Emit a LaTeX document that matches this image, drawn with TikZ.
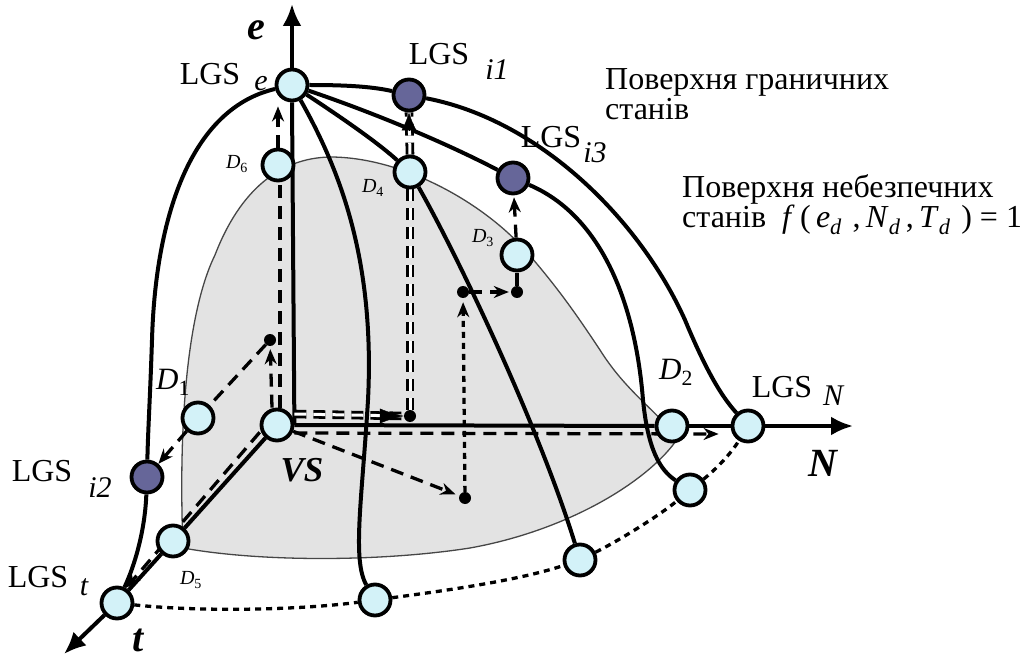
\documentclass[tikz,border=0pt]{standalone}
\usepackage{fontspec}
\setmainfont{Liberation Serif}
\usetikzlibrary{arrows.meta}
\definecolor{stcyan}{RGB}{211,242,248}
\definecolor{stpurple}{RGB}{102,102,153}
\definecolor{surfgray}{RGB}{227,227,227}
\definecolor{surfedge}{RGB}{70,70,70}
\pgfdeclarelayer{surface}
\pgfdeclarelayer{lines}
\pgfsetlayers{surface,lines,main}

\begin{document}
\begin{tikzpicture}[x=1pt,y=-1pt,
  stnode/.style={circle,draw,line width=3.8pt,fill=stcyan,minimum size=31pt,inner sep=0pt},
  lgsnode/.style={stnode,fill=stpurple},
  pnt/.style={circle,fill=black,minimum size=12pt,inner sep=0pt},
  txt/.style={font=\fontsize{32}{30}\selectfont,inner sep=0pt},
  subtxt/.style={font=\fontsize{30}{30}\selectfont\itshape,inner sep=0pt},
  dbig/.style={font=\fontsize{31}{31}\selectfont,inner sep=0pt},
  dsmall/.style={font=\fontsize{20}{20}\selectfont,inner sep=0pt},
  axlbl/.style={font=\fontsize{40}{40}\selectfont\bfseries\itshape,inner sep=0pt},
  curve/.style={line width=4pt},
  axisline/.style={line width=4pt,-{Latex[length=22pt,width=19pt]}},
  dsh/.style={line width=3.3pt,dash pattern=on 13pt off 8pt},
  dotline/.style={line width=3.3pt,dash pattern=on 6pt off 5pt},
  dbl/.style={double,double distance=3pt,line width=2.8pt,dash pattern=on 12pt off 7pt},
  tip/.style={-{Stealth[length=15pt,width=12pt]}},
]
\useasboundingbox (0,0) rectangle (1020,660);

% states on the axes
\node[stnode] (VS) at (277,425) {};
\node[stnode] (LGSe) at (292,85) {};
\node[stnode] (LGSt) at (117,603) {};
\node[stnode] (LGSN) at (748,426) {};
\node[stnode] (D1) at (198,418) {};
\node[stnode] (D2) at (672,426) {};
\node[stnode] (D3) at (517,255) {};
\node[stnode] (D4) at (410,172) {};
\node[stnode] (D5) at (173,541) {};
\node[stnode] (D6) at (278,165) {};
\node[stnode] (B1) at (375,600) {};
\node[stnode] (B2) at (580,560) {};
\node[stnode] (B3) at (690,490) {};
% limit states
\node[lgsnode] (LGSi1) at (409,95) {};
\node[lgsnode] (LGSi2) at (147,477) {};
\node[lgsnode] (LGSi3) at (513,178) {};
% points
\node[pnt] (dotA) at (270,340) {};
\node[pnt] (dotB) at (410,416) {};
\node[pnt] (dotC) at (465,498) {};
\node[pnt] (dotD) at (463,292) {};
\node[pnt] (dotE) at (517,292) {};
\coordinate (eTip) at (292,4);
\coordinate (NTip) at (853,426);
\coordinate (tTip) at (64,654);

% labels
\node[axlbl] (le) at (256,30) {e};
\node[axlbl] (lt) at (138,640) {t};
\node[axlbl] (lN) at (823,463) {N};
\node[axlbl,font=\fontsize{35}{35}\selectfont\bfseries\itshape] (lVS) at (302,470) {VS};
\node[txt] (lLGSe) at (210,74) {LGS};
\node[subtxt] (sLGSe) at (261,84) {e};
\node[txt] (lLGSi1) at (439,54) {LGS};
\node[subtxt] (sLGSi1) at (497,70) {i1};
\node[txt] (lLGSi3) at (551,137) {LGS};
\node[subtxt] (sLGSi3) at (595,153) {i3};
\node[txt] (lLGSN) at (782,387) {LGS};
\node[subtxt] (sLGSN) at (833,396) {N};
\node[txt] (lLGSi2) at (42,471) {LGS};
\node[subtxt] (sLGSi2) at (100,488) {i2};
\node[txt] (lLGSt) at (38,577) {LGS};
\node[subtxt] (sLGSt) at (84,587) {t};
\node[dbig] (lD1) at (173,382) {\textit{D}\textsubscript{1}};
\node[dbig] (lD2) at (676,372) {\textit{D}\textsubscript{2}};
\node[dsmall] (lD3) at (483,238) {\textit{D}\textsubscript{3}};
\node[dsmall] (lD4) at (373,188) {\textit{D}\textsubscript{4}};
\node[dsmall] (lD5) at (191,580) {\textit{D}\textsubscript{5}};
\node[dsmall] (lD6) at (237,164) {\textit{D}\textsubscript{6}};
\node[txt,anchor=west,align=left] (tLimit) at (605,94) {Поверхня граничних\\станів};
\node[txt,anchor=west,align=left] (tDanger) at (682,205)
  {Поверхня небезпечних\\станів\ \ \textit{f}\,(\,\textit{e}\textsubscript{\textit{d}}\,\,,\,\textit{N}\textsubscript{\textit{d}}\,,\,\textit{T}\textsubscript{\textit{d}}\,\,)\ =\ 1};

% surface of dangerous states
\begin{pgfonlayer}{surface}
\filldraw[fill=surfgray,draw=surfedge,line width=1.3pt] (183,548)
  .. controls (178,420) and (188,310) .. (215,255)
  .. controls (240,190) and (280,158) .. (330,157)
  .. controls (400,157) and (480,200) .. (525,250)
  .. controls (560,290) and (580,320) .. (600,350)
  .. controls (625,390) and (655,410) .. (678,438)
  .. controls (650,480) and (570,530) .. (470,548)
  .. controls (380,562) and (260,562) .. (183,548) -- cycle;
\end{pgfonlayer}

\begin{pgfonlayer}{lines}
% axes
\draw[curve] (VS.east) -- (LGSe.south);
\draw[axisline] (LGSe.north) -- (eTip);
\draw[curve] (VS.east) -- (D2.west);
\draw[curve] (D2.east) -- (LGSN.west);
\draw[axisline] (LGSN.east) -- (NTip);
\draw[curve] (VS) -- (D5);
\draw[curve] (D5) -- (LGSt);
\draw[axisline] (LGSt) -- (tTip);
% limit state curves
\draw[curve] (LGSe) .. controls (185,110) and (155,230) .. (152,340)
  .. controls (150,400) and (148,430) .. (LGSi2);
\draw[curve] (LGSi2) .. controls (145,530) and (135,565) .. (LGSt);
\draw[curve] (LGSe) .. controls (340,170) and (375,260) .. (368,400)
  .. controls (362,500) and (352,560) .. (B1);
\draw[curve] (LGSe) .. controls (330,110) and (375,140) .. (D4);
\draw[curve] (D4) .. controls (460,260) and (540,430) .. (B2);
\draw[curve] (LGSe) .. controls (380,115) and (450,145) .. (LGSi3);
\draw[curve] (LGSi3) .. controls (600,215) and (635,300) .. (643,400)
  .. controls (648,450) and (660,470) .. (B3);
\draw[curve] (LGSe) .. controls (340,85) and (370,86) .. (LGSi1);
\draw[curve] (LGSi1) .. controls (540,120) and (640,220) .. (685,320)
  .. controls (710,380) and (725,400) .. (LGSN);
% bottom line
\draw[dotline] (LGSt) .. controls (200,612) and (300,610) .. (B1);
\draw[dotline] (B1) .. controls (450,590) and (520,580) .. (B2);
\draw[dotline] (B2) .. controls (620,540) and (660,515) .. (B3);
\draw[dotline] (B3) .. controls (715,470) and (730,455) .. (LGSN);
% trajectories
\draw[dsh,tip,shorten >=3pt] ([xshift=-5pt]VS.north) -- (dotA);
\draw[dsh] ([xshift=3pt]VS.north) -- ([xshift=2pt]D6.south);
\draw[dsh,tip,shorten >=4pt] (D6.north) -- (D6.north |- LGSe.south);
\draw[dsh] (dotA) -- (D1);
\draw[dsh,tip] (D1) -- (LGSi2);
\draw[dsh,tip] ([xshift=-5pt,yshift=5pt]VS.south west) -- ([xshift=-3pt,yshift=3pt]LGSt.north east);
\draw[dbl] ([yshift=11pt]VS.east) -- (dotB.west);
\draw[-{Latex[length=24pt,width=15pt]}] ([xshift=-24pt]dotB.west) -- (dotB.west);
\draw[dbl] (dotB.north) -- (D4.south);
\draw[dbl] (D4.north) -- (LGSi1.south);
\draw[-{Latex[length=18pt,width=15pt]}] ([yshift=-18pt]LGSi1.south) -- (LGSi1.south);
\draw[dsh,tip] ([yshift=-8pt]VS.east) -- ([yshift=-8pt,xshift=-12pt]LGSN.west);
\draw[dsh,tip,shorten >=4pt] (VS) -- (dotC);
\draw[dotline,tip,shorten >=4pt] (dotC) -- (dotD);
\draw[dsh,tip,shorten >=2pt] (dotD) -- (dotE);
\draw[dsh] (dotE) -- (D3);
\draw[dsh,tip,shorten >=2pt] (D3) -- (LGSi3);
\end{pgfonlayer}
\end{tikzpicture}
\end{document}
